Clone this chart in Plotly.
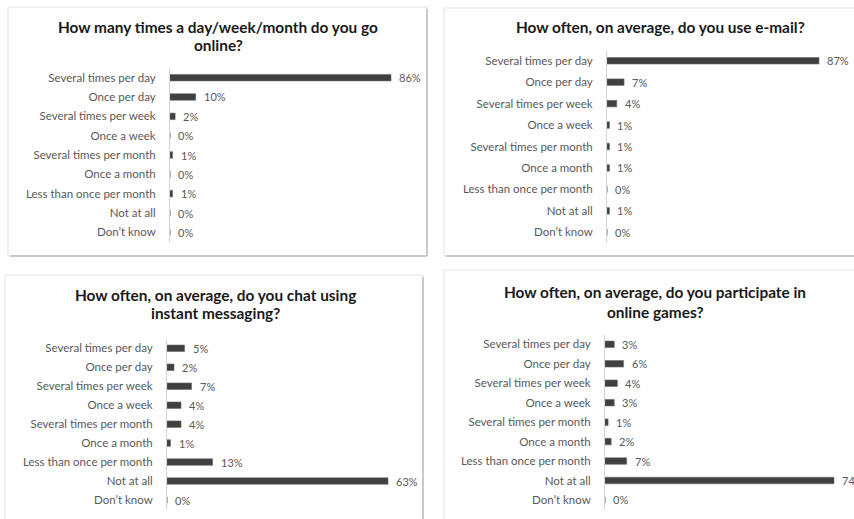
import plotly.graph_objects as go

W, H = 854, 519

categories = ["Several times per day", "Once per day", "Several times per week",
              "Once a week", "Several times per month", "Once a month",
              "Less than once per month", "Not at all", "Don\u2019t know"]

titles = [["How many times a day/week/month do you go", "online?"],
          ["How often, on average, do you use e-mail?"],
          ["How often, on average, do you chat using", "instant messaging?"],
          ["How often, on average, do you participate in", "online games?"]]

online_values = [86, 10, 2, 0, 1, 0, 1, 0, 0]
email_values = [87, 7, 4, 1, 1, 1, 0, 1, 0]
chat_values = [5, 2, 7, 4, 4, 1, 13, 63, 0]
games_values = [3, 6, 4, 3, 1, 2, 7, 74, 0]

series = [online_values, email_values, chat_values, games_values]

# layout in pixels: axis x0, px per %, x right, y top, y bottom, panel box, title lines y, title centre x
panels = [
    dict(x0=170, ppu=221 / 86, x1=420, y0=68, y1=242, box=(8, 7, 427, 256), ty=[27, 45], tx=218),
    dict(x0=607, ppu=212 / 87, x1=845, y0=50, y1=243, box=(444, 8, 860, 256), ty=[27], tx=660),
    dict(x0=167, ppu=221 / 63, x1=415, y0=338.8, y1=509.5, box=(5, 275, 423, 530), ty=[295, 313], tx=215),
    dict(x0=605, ppu=229 / 74, x1=854, y0=334.6, y1=509.7, box=(444, 270, 860, 530), ty=[292, 312], tx=655),
]

def px(x):
    return x / W

def py(y):
    return 1 - y / H

fig = go.Figure()
layout = {}
shapes = []
annotations = []
FONT = "Lato"
GRAY = "#595959"

for i, (vals, p, title) in enumerate(zip(series, panels, titles)):
    n = i + 1
    xa = "x" if n == 1 else f"x{n}"
    ya = "y" if n == 1 else f"y{n}"
    spacing = (p["y1"] - p["y0"]) / len(categories)
    fig.add_trace(go.Bar(
        x=vals, y=categories, orientation="h", xaxis=xa, yaxis=ya,
        marker=dict(color="#404040", line=dict(color="#6a6a6a", width=0.6)),
        width=6.5 / spacing, showlegend=False, hoverinfo="x+y",
    ))
    rng = (p["x1"] - p["x0"]) / p["ppu"]
    layout[f"xaxis{'' if n == 1 else n}"] = dict(
        domain=[px(p["x0"]), px(p["x1"])], range=[0, rng], visible=False,
        anchor=ya, fixedrange=True)
    layout[f"yaxis{'' if n == 1 else n}"] = dict(
        domain=[py(p["y1"]), py(p["y0"])], type="category",
        categoryorder="array", categoryarray=categories,
        range=[len(categories) - 0.5, -0.5], anchor=xa,
        showline=True, linecolor="#d4d4d4", linewidth=1,
        ticks="", showgrid=False, zeroline=False, ticklabelstandoff=11,
        tickfont=dict(family=FONT, size=11.5, color=GRAY), fixedrange=True)
    for v, c in zip(vals, categories):
        annotations.append(dict(
            x=v, y=c, xref=xa, yref=ya, text=f"{v}%", showarrow=False,
            xanchor="left", xshift=6, font=dict(family=FONT, size=11, color=GRAY)))
    for line, ty in zip(title, p["ty"]):
        annotations.append(dict(
            x=px(p["tx"]), y=py(ty), xref="paper", yref="paper",
            text=f"<b>{line}</b>", showarrow=False, xanchor="center", yanchor="middle",
            font=dict(family=FONT, size=15.4, color="#1a1a1a")))
    bx0, by0, bx1, by1 = p["box"]
    shapes.append(dict(type="rect", xref="paper", yref="paper",
                       x0=px(bx0), x1=px(bx1), y0=py(by1), y1=py(by0),
                       line=dict(color="#e4e4e4", width=1), layer="below"))
    shapes.append(dict(type="line", xref="paper", yref="paper",
                       x0=px(bx1), x1=px(bx1), y0=py(by1), y1=py(by0 + 2),
                       line=dict(color="#bdbdbd", width=1.5)))
    shapes.append(dict(type="line", xref="paper", yref="paper",
                       x0=px(bx0 + 2), x1=px(bx1), y0=py(by1), y1=py(by1),
                       line=dict(color="#bdbdbd", width=1.5)))

fig.update_layout(
    width=W, height=H, margin=dict(l=0, r=0, t=0, b=0),
    paper_bgcolor="white", plot_bgcolor="rgba(0,0,0,0)",
    shapes=shapes, annotations=annotations, **layout)

fig.write_html("out.html", config={"displayModeBar": False},
               post_script="document.body.style.margin='0';document.body.style.overflow='hidden';")
